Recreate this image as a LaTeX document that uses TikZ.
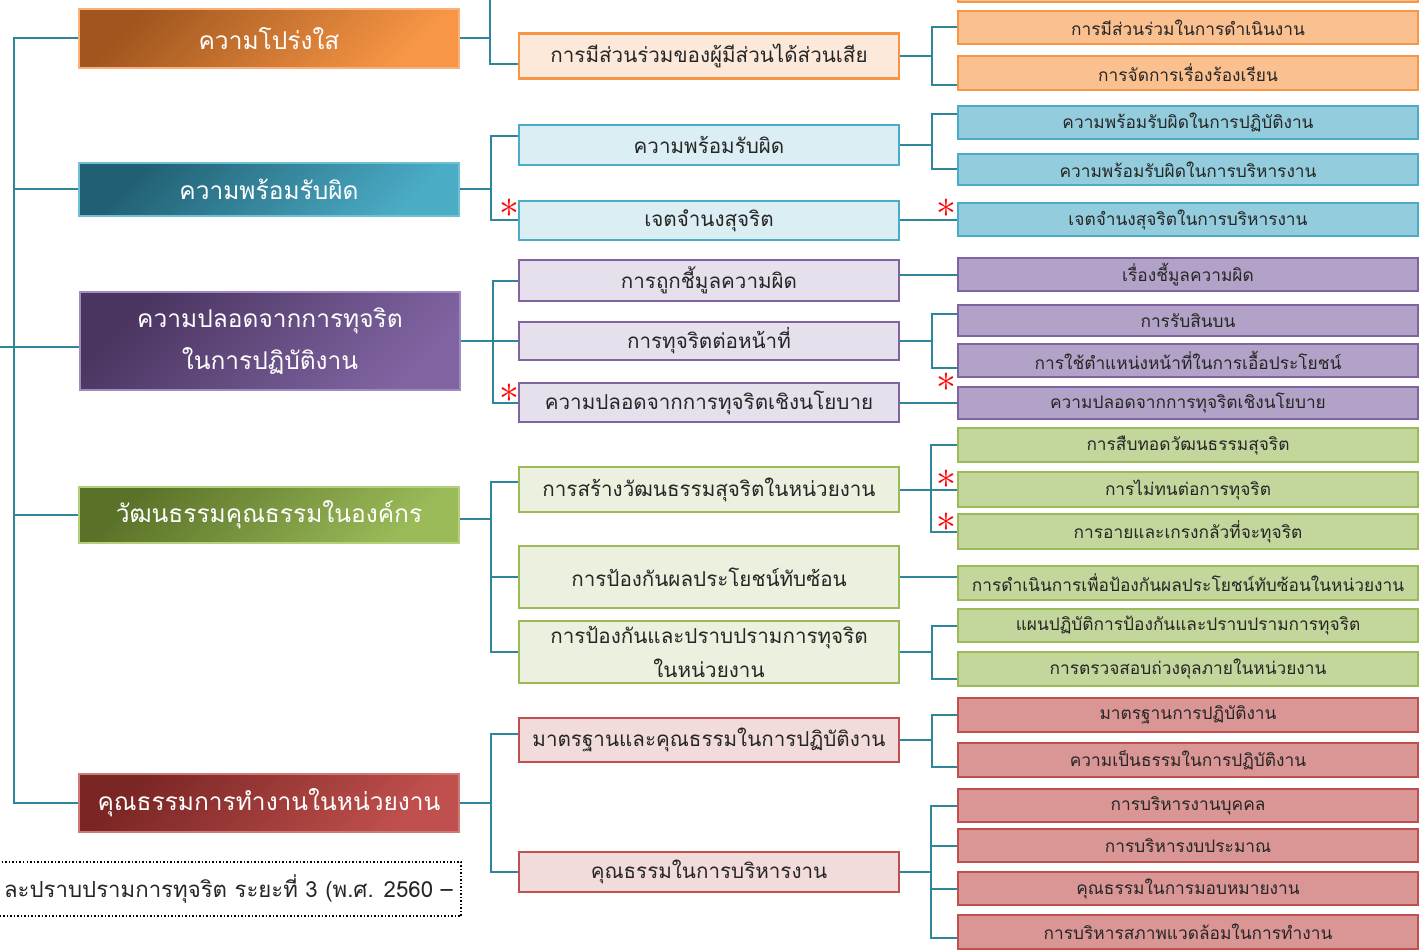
\documentclass[tikz,border=0pt]{standalone}
\usepackage{graphicx}
\usepackage{fontspec}
\newfontfamily\thaifont[Script=Thai]{Loma}
\definecolor{linkteal}{RGB}{49,133,155}
\definecolor{orgdark}{RGB}{160,86,30}
\definecolor{orglight}{RGB}{247,150,70}
\definecolor{orgedge}{RGB}{250,176,120}
\definecolor{orgpale}{RGB}{253,233,217}
\definecolor{orgsoft}{RGB}{250,192,144}
\definecolor{bludark}{RGB}{33,95,114}
\definecolor{blulight}{RGB}{75,172,198}
\definecolor{bluedge}{RGB}{110,192,214}
\definecolor{blupale}{RGB}{218,238,243}
\definecolor{blusoft}{RGB}{147,205,221}
\definecolor{purdark}{RGB}{74,53,96}
\definecolor{purlight}{RGB}{128,100,162}
\definecolor{puredge}{RGB}{160,139,192}
\definecolor{purpale}{RGB}{229,224,236}
\definecolor{pursoft}{RGB}{178,162,199}
\definecolor{grndark}{RGB}{90,114,40}
\definecolor{grnlight}{RGB}{155,187,89}
\definecolor{grnedge}{RGB}{181,208,122}
\definecolor{grnpale}{RGB}{235,241,222}
\definecolor{grnsoft}{RGB}{195,214,155}
\definecolor{reddark}{RGB}{122,38,36}
\definecolor{redlight}{RGB}{192,80,77}
\definecolor{rededge}{RGB}{208,122,120}
\definecolor{redpale}{RGB}{242,220,219}
\definecolor{redsoft}{RGB}{217,150,148}
\begin{document}
\begin{tikzpicture}[x=1pt,y=-1pt]
        \useasboundingbox (0,0) rectangle (1422,952);
        \clip (0,0) rectangle (1422,952);
        \tikzstyle{every node}=[rectangle, inner sep=2pt, align=center, text=black!85]
        \tikzstyle{topic}=[minimum width=380pt, line width=2pt, text=white, font=\thaifont\fontsize{24.5}{42}\selectfont]
        \tikzstyle{subbox}=[minimum width=380pt, line width=2.5pt, font=\thaifont\fontsize{20.6}{34}\selectfont]
        \tikzstyle{leafbox}=[minimum width=460pt, line width=2.5pt, font=\thaifont\fontsize{17.3}{22}\selectfont]
        \tikzstyle{link}=[linkteal, line width=2pt]
        \tikzstyle{redstar}=[inner sep=0pt, text=red, font=\Huge]

        % level one
        \node[topic, top color=orgdark, bottom color=orglight, shading angle=45, draw=orgedge, minimum height=59pt] (k1) at (269,38.5) {ความโปร่งใส};
        \node[topic, top color=bludark, bottom color=blulight, shading angle=45, draw=bluedge, minimum height=53pt] (k2) at (269,189.5) {ความพร้อมรับผิด};
        \node[topic, top color=purdark, bottom color=purlight, shading angle=45, draw=puredge, minimum height=98pt] (k3) at (270,341) {ความปลอดจากการทุจริต\\ในการปฏิบัติงาน};
        \node[topic, top color=grndark, bottom color=grnlight, shading angle=45, draw=grnedge, minimum height=56pt] (k4) at (269,515) {วัฒนธรรมคุณธรรมในองค์กร};
        \node[topic, top color=reddark, bottom color=redlight, shading angle=45, draw=rededge, minimum height=58pt] (k5) at (269,803) {คุณธรรมการทำงานในหน่วยงาน};

        % orange group
        \tikzstyle{sub}=[subbox, fill=orgpale, draw=orglight]
        \tikzstyle{leaf}=[leafbox, fill=orgsoft, draw=orglight]
        \node[sub, minimum height=45pt] (m1) at (709,56) {การมีส่วนร่วมของผู้มีส่วนได้ส่วนเสีย};
        \node[leaf, minimum height=34pt] (n0) at (1188,-15) {};
        \node[leaf, minimum height=33pt] (n1) at (1188,27.5) {การมีส่วนร่วมในการดำเนินงาน};
        \node[leaf, minimum height=34pt] (n2) at (1188,73) {การจัดการเรื่องร้องเรียน};

        % blue group
        \tikzstyle{sub}=[subbox, fill=blupale, draw=blulight]
        \tikzstyle{leaf}=[leafbox, fill=blusoft, draw=blulight]
        \node[sub, minimum height=40pt] (m2) at (709,145) {ความพร้อมรับผิด};
        \node[sub, minimum height=39pt] (m3) at (709,220.5) {เจตจำนงสุจริต};
        \node[leaf, minimum height=33pt] (n3) at (1188,122.5) {ความพร้อมรับผิดในการปฏิบัติงาน};
        \node[leaf, minimum height=31pt] (n4) at (1188,169.5) {ความพร้อมรับผิดในการบริหารงาน};
        \node[leaf, minimum height=33pt] (n5) at (1188,219.5) {เจตจำนงสุจริตในการบริหารงาน};

        % purple group
        \tikzstyle{sub}=[subbox, fill=purpale, draw=purlight]
        \tikzstyle{leaf}=[leafbox, fill=pursoft, draw=purlight]
        \node[sub, minimum height=41pt] (m4) at (709,280.5) {การถูกชี้มูลความผิด};
        \node[sub, minimum height=38pt] (m5) at (709,341) {การทุจริตต่อหน้าที่};
        \node[sub, minimum height=39pt] (m6) at (709,402.5) {ความปลอดจากการทุจริตเชิงนโยบาย};
        \node[leaf, minimum height=33pt] (n6) at (1188,274.5) {เรื่องชี้มูลความผิด};
        \node[leaf, minimum height=31pt] (n7) at (1188,320.5) {การรับสินบน};
        \node[leaf, minimum height=33pt] (n8) at (1188,360.5) {การใช้ตำแหน่งหน้าที่ในการเอื้อประโยชน์};
        \node[leaf, minimum height=32pt] (n9) at (1188,403) {ความปลอดจากการทุจริตเชิงนโยบาย};

        % green group
        \tikzstyle{sub}=[subbox, fill=grnpale, draw=grnlight]
        \tikzstyle{leaf}=[leafbox, fill=grnsoft, draw=grnlight]
        \node[sub, minimum height=45pt] (m7) at (709,489.5) {การสร้างวัฒนธรรมสุจริตในหน่วยงาน};
        \node[sub, minimum height=62pt] (m8) at (709,577) {การป้องกันผลประโยชน์ทับซ้อน};
        \node[sub, minimum height=62pt] (m9) at (709,652) {การป้องกันและปราบปรามการทุจริต\\ในหน่วยงาน};
        \node[leaf, minimum height=34pt] (n10) at (1188,445) {การสืบทอดวัฒนธรรมสุจริต};
        \node[leaf, minimum height=35pt] (n11) at (1188,489.5) {การไม่ทนต่อการทุจริต};
        \node[leaf, minimum height=35pt] (n12) at (1188,531.5) {การอายและเกรงกลัวที่จะทุจริต};
        \node[leaf, minimum height=34pt] (n13) at (1188,583) {การดำเนินการเพื่อป้องกันผลประโยชน์ทับซ้อนในหน่วยงาน};
        \node[leaf, minimum height=33pt] (n14) at (1188,625.5) {แผนปฏิบัติการป้องกันและปราบปรามการทุจริต};
        \node[leaf, minimum height=34pt] (n15) at (1188,669) {การตรวจสอบถ่วงดุลภายในหน่วยงาน};

        % red group
        \tikzstyle{sub}=[subbox, fill=redpale, draw=redlight]
        \tikzstyle{leaf}=[leafbox, fill=redsoft, draw=redlight]
        \node[sub, minimum height=44pt] (m10) at (709,740) {มาตรฐานและคุณธรรมในการปฏิบัติงาน};
        \node[sub, minimum height=40pt] (m11) at (709,872) {คุณธรรมในการบริหารงาน};
        \node[leaf, minimum height=34pt] (n16) at (1188,715) {มาตรฐานการปฏิบัติงาน};
        \node[leaf, minimum height=34pt] (n17) at (1188,760) {ความเป็นธรรมในการปฏิบัติงาน};
        \node[leaf, minimum height=33pt] (n18) at (1188,805.5) {การบริหารงานบุคคล};
        \node[leaf, minimum height=33pt] (n19) at (1188,845.5) {การบริหารงบประมาณ};
        \node[leaf, minimum height=33pt] (n20) at (1188,888.5) {คุณธรรมในการมอบหมายงาน};
        \node[leaf, minimum height=34pt] (n21) at (1188,932) {การบริหารสภาพแวดล้อมในการทำงาน};

        % dotted caption, cut at the left edge
        \node[draw=black, dotted, line width=1.5pt, minimum width=500pt, minimum height=54pt] (cap) at (211,889) {};
        \node[anchor=east, font=\thaifont\fontsize{22.2}{26}\selectfont] (captext) at (455,889) {ละปราบปรามการทุจริต ระยะที่ 3 (พ.ศ. 2560 –};

        % trunk
        \coordinate (root) at (0,347);
        \draw[link] (k1.west) -- ++(-64,0) |- (k5.west);
        \draw[link] (k2.west) -- ++(-64,0);
        \draw[link] (k4.west) -- ++(-64,0);
        \draw[link] (root) -- ([yshift=-6pt]k3.west);

        % orange links
        \coordinate (up) at (490,-5);
        \draw[link] (k1.east) -- (k1.east -| up);
        \draw[link] (up) |- ([yshift=-8pt]m1.west);
        \draw[link] (m1.east) -- ++(32,0) coordinate (g1) |- (n1.west) (g1) |- ([yshift=-12pt]n2.west);

        % blue links
        \draw[link] (k2.east) -- ++(31,0) coordinate (f2) |- ([yshift=9pt]m2.west) (f2) |- (m3.west);
        \draw[link] (m2.east) -- ++(32,0) coordinate (g2) |- ([yshift=8pt]n3.west) (g2) |- (n4.west);
        \draw[link] (m3.east) -- (m3.east -| n5.west);

        % purple links
        \draw[link] (k3.east) -- ++(32,0) coordinate (f3) |- (m4.west) (f3) |- (m5.west) (f3) |- (m6.west);
        \draw[link] ([yshift=6pt]m4.east) -- (n6.west);
        \draw[link] (m5.east) -- ++(32,0) coordinate (g3) |- ([yshift=7pt]n7.west) (g3) |- ([yshift=-7pt]n8.west);
        \draw[link] (m6.east) -- (m6.east -| n9.west);

        % green links
        \draw[link] ([yshift=-4pt]k4.east) -- ++(31,0) coordinate (f4) |- ([yshift=8pt]m7.west) (f4) |- (m8.west) (f4) |- (m9.west);
        \draw[link] (m7.east) -- ++(31,0) coordinate (g4) |- (n10.west) (g4) |- (n11.west) (g4) |- (n12.west);
        \draw[link] (m8.east) -- (m8.east -| n13.west);
        \draw[link] (m9.east) -- ++(32,0) coordinate (h4) |- (n14.west) (h4) |- ([yshift=-10pt]n15.west);

        % red links
        \draw[link] (k5.east) -- ++(31,0) coordinate (f5) |- ([yshift=6pt]m10.west) (f5) |- (m11.west);
        \draw[link] (m10.east) -- ++(32,0) coordinate (g5) |- (n16.west) (g5) |- ([yshift=-7pt]n17.west);
        \draw[link] (m11.east) -- ++(31,0) coordinate (h5) |- (n18.west) (h5) |- (n19.west) (h5) |- (n20.west) (h5) |- ([yshift=-6pt]n21.west);

        % stars
        \node[redstar] (s1) at (509,208) {\scalebox{1.6}{$\ast$}};
        \node[redstar] (s2) at (509,393) {\scalebox{1.6}{$\ast$}};
        \node[redstar] (s3) at (946,208) {\scalebox{1.6}{$\ast$}};
        \node[redstar] (s4) at (946,382) {\scalebox{1.6}{$\ast$}};
        \node[redstar] (s5) at (946,479) {\scalebox{1.6}{$\ast$}};
        \node[redstar] (s6) at (946,522) {\scalebox{1.6}{$\ast$}};
    \end{tikzpicture}
\end{document}
